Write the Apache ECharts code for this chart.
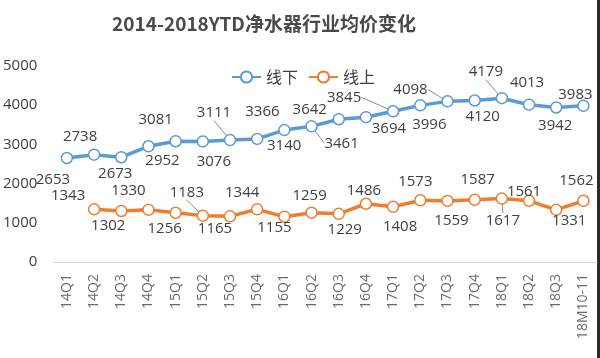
<!DOCTYPE html>
<html>
<head>
<meta charset="utf-8">
<script src="https://cdn.jsdelivr.net/npm/echarts@6/dist/echarts.min.js"></script>
<style>html,body{margin:0;padding:0;background:#fff}#c{width:600px;height:358px}</style>
</head>
<body>
<div id="c"></div>
<script>
const categories = ['14Q1','14Q2','14Q3','14Q4','15Q1','15Q2','15Q3','15Q4','16Q1','16Q2','16Q3','16Q4','17Q1','17Q2','17Q3','17Q4','18Q1','18Q2','18Q3','18M10-11'];
const offline = [2653,2738,2673,2952,3081,3076,3111,3140,3366,3461,3642,3694,3845,3996,4098,4120,4179,4013,3942,3983];
const online = ['-',1343,1302,1330,1256,1183,1165,1344,1155,1259,1229,1486,1408,1573,1559,1587,1617,1561,1331,1562];
const yTicks = [0,1000,2000,3000,4000,5000];

// label offsets (label centre relative to its point), layout only
const offlineLabelOffsets = [[-14,22],[-14,-18],[-6,17],[14,14],[-20,-21],[11,20],[-16,-27],[27,7],[-22,-18],[30,17],[-29,-9],[23,12],[-49,-14],[9,19],[-37,-12],[8,16],[-16,-26],[-2,-22],[-1,18],[-8,-11]];
const onlineLabelOffsets = [[0,0],[-26,-14],[-13,15],[-20,-19],[-11,16],[-16,-23],[-15,12],[-15,-17],[-10,11],[-2,-17],[6,16],[-2,-13],[7,20],[-5,-19],[4,20],[3,-20],[1,22],[-5,-9],[13,11],[-7,-20]];
const offlineLeaders = [6,9,12,14,16];
const onlineLeaders = [5,16];

const numFont = "'Open Sans', 'Noto Sans CJK SC', sans-serif";
const cjkFont = "'Noto Sans CJK SC', sans-serif";

function mkData(vals, leaders){
  return vals.map((v,i)=>({value:v, labelLine:{show: leaders.indexOf(i)>=0, lineStyle:{color:'#8c8c8c', width:1}}}));
}
function mkLayout(offs){
  return function(p){
    const o = offs[p.dataIndex] || [0,0];
    return {
      x: p.rect.x + p.rect.width/2 + o[0],
      y: p.rect.y + p.rect.height/2 + o[1],
      align: 'center',
      verticalAlign: 'middle'
    };
  };
}

const chart = echarts.init(document.getElementById('c'), null, {renderer:'canvas'});
chart.setOption({
  animation: false,
  backgroundColor: '#fff',
  title: {
    text: '2014-2018YTD净水器行业均价变化',
    left: 259, top: 9, textAlign: 'center',
    textStyle: {fontFamily: cjkFont, fontSize: 19, fontWeight: 'bold', color: '#4a4a4a'}
  },
  legend: {
    left: 226, top: 64,
    itemWidth: 29, itemHeight: 14, itemGap: 10,
    textStyle: {fontFamily: cjkFont, fontSize: 16, color: '#404040'},
    data: ['线下','线上']
  },
  grid: {left: 51, right: 3, top: 66, bottom: 96},
  xAxis: {
    type: 'category', data: categories, boundaryGap: true,
    axisLine: {lineStyle: {color: '#d9d9d9', width: 1}},
    axisTick: {show: false},
    axisLabel: {rotate: 90, margin: 12, fontFamily: numFont, fontSize: 14, color: '#6a6a6a', interval: 0}
  },
  yAxis: {
    type: 'value', min: yTicks[0], max: yTicks[yTicks.length-1], interval: 1000,
    axisLine: {show: false}, axisTick: {show: false},
    splitLine: {show: false},
    axisLabel: {margin: 16, fontFamily: numFont, fontSize: 15, color: '#404040', formatter: v => String(v)}
  },
  series: [
    {
      name: '线下', type: 'line', data: mkData(offline, offlineLeaders),
      symbol: 'circle', symbolSize: 11,
      lineStyle: {color: '#5b9bd5', width: 3.5},
      itemStyle: {color: '#fff', borderColor: '#5b9bd5', borderWidth: 1.5},
      label: {show: true, position: 'inside', fontFamily: numFont, fontSize: 15, color: '#404040'},
      labelLayout: mkLayout(offlineLabelOffsets)
    },
    {
      name: '线上', type: 'line', data: mkData(online, onlineLeaders),
      symbol: 'circle', symbolSize: 11,
      lineStyle: {color: '#ed7d31', width: 3.5},
      itemStyle: {color: '#fff', borderColor: '#ed7d31', borderWidth: 1.5},
      label: {show: true, position: 'inside', fontFamily: numFont, fontSize: 15, color: '#404040'},
      labelLayout: mkLayout(onlineLabelOffsets)
    }
  ],
  graphic: [
    {type: 'rect', shape: {x: 597, y: 0, width: 3, height: 358}, style: {fill: '#2a2a2a'}, silent: true}
  ]
});
</script>
</body>
</html>
